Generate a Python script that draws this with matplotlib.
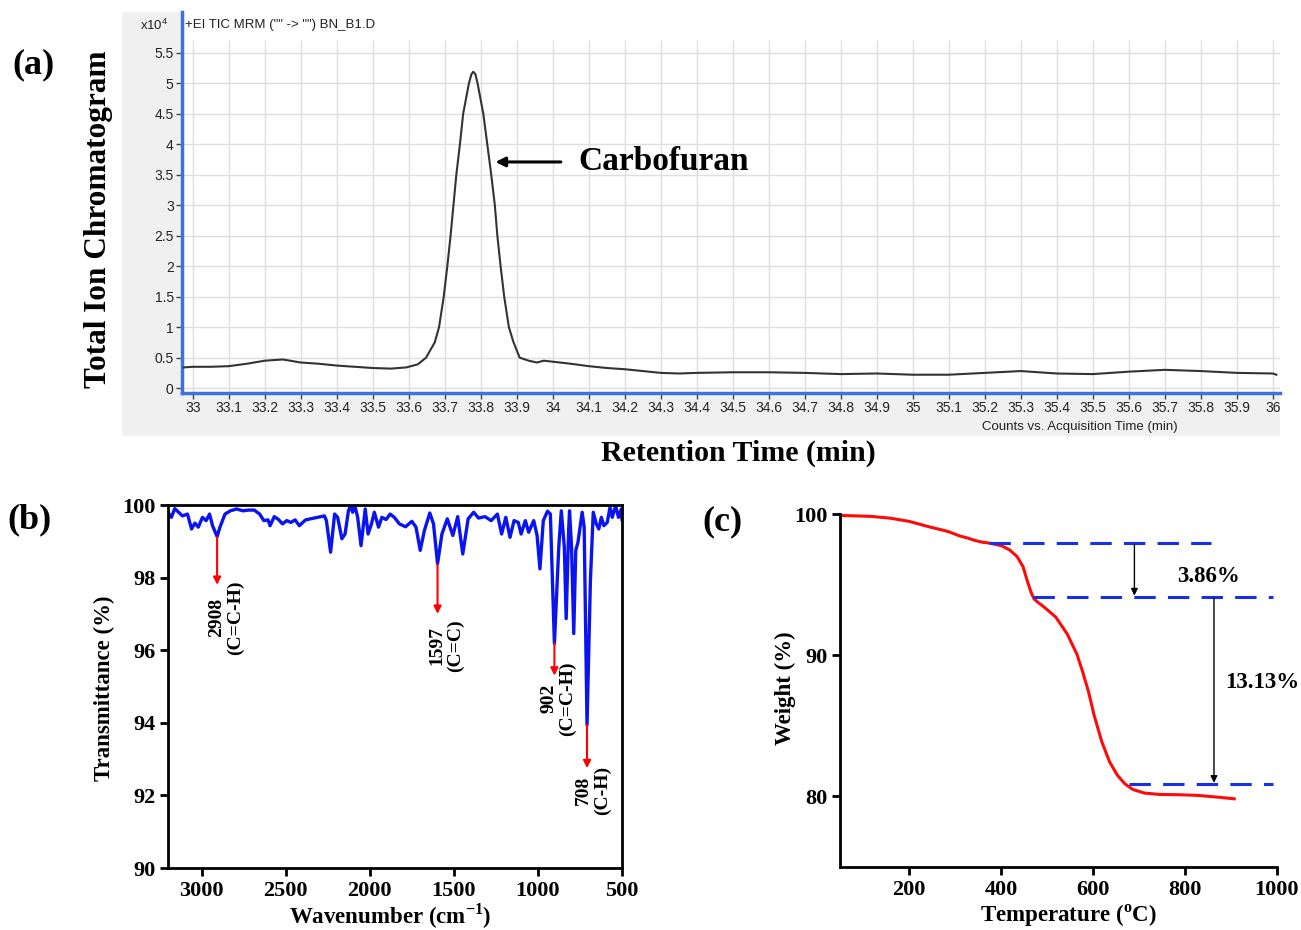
import numpy as np
import matplotlib
matplotlib.use("Agg")
import matplotlib.pyplot as plt
from matplotlib.patches import Rectangle

W, H = 1301, 930

# (a) chromatogram, counts in x10^4
rt = [32.975, 33.0, 33.05, 33.1, 33.15, 33.2, 33.25, 33.3, 33.35, 33.4,
      33.45, 33.5, 33.55, 33.593, 33.625, 33.648, 33.672, 33.684, 33.697, 33.707,
      33.716, 33.724, 33.732, 33.742, 33.751, 33.767, 33.774, 33.779, 33.785, 33.791,
      33.807, 33.818, 33.829, 33.839, 33.846, 33.855, 33.865, 33.878, 33.891, 33.908,
      33.933, 33.956, 33.975, 34.02, 34.05, 34.1, 34.15, 34.2, 34.25, 34.3,
      34.35, 34.4, 34.5, 34.6, 34.7, 34.8, 34.9, 35.0, 35.1, 35.2,
      35.3, 35.4, 35.5, 35.6, 35.7, 35.8, 35.9, 36.0, 36.01]
counts = [0.34, 0.35, 0.35, 0.36, 0.40, 0.45, 0.47, 0.42, 0.40, 0.37,
          0.35, 0.33, 0.32, 0.34, 0.39, 0.50, 0.75, 1.0, 1.5, 2.0,
          2.5, 3.0, 3.5, 4.0, 4.5, 5.0, 5.15, 5.19, 5.15, 5.0,
          4.5, 4.0, 3.5, 3.0, 2.5, 2.0, 1.5, 1.0, 0.75, 0.50,
          0.45, 0.42, 0.45, 0.42, 0.40, 0.36, 0.33, 0.31, 0.28, 0.25,
          0.24, 0.25, 0.26, 0.26, 0.25, 0.23, 0.24, 0.22, 0.22, 0.25,
          0.28, 0.24, 0.23, 0.27, 0.30, 0.28, 0.25, 0.24, 0.22]
rt_ticks = [round(33 + 0.1 * i, 1) for i in range(31)]
count_ticks = [0.5 * i for i in range(12)]

# (b) FTIR
wn = [3200, 3180, 3160, 3114, 3084, 3060, 3040, 3020, 2995, 2973,
      2953, 2935, 2908, 2891, 2861, 2829, 2792, 2754, 2722, 2687,
      2655, 2630, 2605, 2593, 2568, 2543, 2519, 2494, 2469, 2444,
      2419, 2382, 2270, 2258, 2233, 2209, 2191, 2166, 2147, 2127,
      2114, 2102, 2089, 2072, 2052, 2027, 2010, 1990, 1973, 1948,
      1928, 1903, 1879, 1854, 1824, 1787, 1750, 1725, 1700, 1675,
      1643, 1621, 1597, 1571, 1539, 1506, 1477, 1447, 1415, 1382,
      1353, 1315, 1278, 1241, 1216, 1191, 1166, 1142, 1117, 1100,
      1075, 1055, 1025, 1005, 988, 968, 943, 926, 902, 876,
      861, 843, 832, 817, 812, 800, 787, 775, 762, 737,
      725, 708, 688, 671, 653, 638, 623, 608, 588, 571,
      558, 538, 521, 504, 500]
trans = [99.8, 99.66, 99.9, 99.7, 99.75, 99.34, 99.5, 99.39, 99.66, 99.57,
         99.75, 99.43, 99.13, 99.39, 99.75, 99.84, 99.89, 99.84, 99.86, 99.86,
         99.75, 99.57, 99.59, 99.43, 99.68, 99.6, 99.48, 99.57, 99.52, 99.59,
         99.43, 99.59, 99.7, 99.57, 98.7, 99.75, 99.66, 99.07, 99.2, 99.84,
         99.98, 99.8, 99.98, 99.66, 98.88, 99.89, 99.2, 99.48, 99.8, 99.39,
         99.66, 99.6, 99.75, 99.66, 99.48, 99.4, 99.55, 99.39, 98.75, 99.3,
         99.78, 99.48, 98.38, 99.2, 99.62, 99.16, 99.68, 98.65, 99.62, 99.8,
         99.64, 99.68, 99.57, 99.75, 99.2, 99.66, 99.11, 99.57, 99.52, 99.2,
         99.57, 99.25, 99.57, 99.16, 98.24, 99.57, 99.83, 99.75, 96.18, 98.84,
         99.84, 98.84, 96.87, 99.34, 99.84, 98.84, 96.46, 98.75, 98.97, 99.8,
         99.39, 93.94, 97.9, 99.8, 99.48, 99.34, 99.66, 99.43, 99.52, 99.94,
         99.66, 99.98, 99.66, 99.89, 99.6]
ir_peaks = [2908, 1597, 902, 708]
ir_peak_t = [99.12, 98.38, 96.2, 93.95]
ir_arrow_end = [97.8, 97.0, 95.3, 92.75]
ir_labels = ["2908\n(C=C-H)", "1597\n(C=C)", "902\n(C=C-H)", "708\n(C-H)"]
ir_label_pos = [(2853, 96.9), (1546, 96.13), (876, 94.67), (673, 92.13)]

# (c) TGA
temp = [50, 118, 160, 200, 243, 285, 310, 327, 344, 360,
        377, 402, 419, 435, 448, 459, 466, 472, 480, 494,
        519, 544, 565, 577, 590, 602, 619, 636, 653, 669,
        686, 711, 744, 786, 828, 870, 907]
weight = [99.9, 99.83, 99.7, 99.48, 99.1, 98.76, 98.45, 98.3, 98.12, 98.0,
          97.93, 97.74, 97.45, 96.98, 96.26, 95.07, 94.4, 93.98, 93.75, 93.4,
          92.7, 91.5, 90.07, 88.88, 87.45, 85.8, 83.88, 82.45, 81.5, 80.9,
          80.5, 80.24, 80.14, 80.12, 80.07, 79.95, 79.83]
step_levels = [97.93, 94.12, 80.86]
step_start = [373, 469, 678]
step_end = [857, 991, 991]
loss_x = [690, 863]
loss_text = ["3.86%", "13.13%"]
loss_text_pos = [(851, 95.55), (968, 88.05)]


def box(l, t, r, b):
    return [l / W, 1 - b / H, (r - l) / W, (b - t) / H]


serif = "Liberation Serif"
sans = ["Liberation Sans Narrow", "Liberation Sans", "DejaVu Sans"]

fig = plt.figure(figsize=(W / 100, H / 100), dpi=100)

# ---------- panel (a) ----------
fig.add_artist(Rectangle((122 / W, 1 - 436 / H), (1280 - 122) / W, (436 - 12) / H,
                         transform=fig.transFigure, facecolor="#f0f0f0",
                         edgecolor="none", zorder=0))
ax1 = fig.add_axes(box(182, 12, 1280, 393))
ax1.set_facecolor("white")
ax1.set_xlim(32.97, 36.02)
ax1.set_ylim(-0.08, 6.17)
ax1.vlines(rt_ticks, -0.08, 5.71, color="#dedede", lw=1.0, zorder=1)
ax1.hlines(count_ticks, 32.97, 36.02, color="#dedede", lw=1.0, zorder=1)
ax1.plot(rt, counts, color="#333333", lw=1.5, zorder=3)
for s in ["top", "right"]:
    ax1.spines[s].set_visible(False)
for s in ["left", "bottom"]:
    ax1.spines[s].set_color("#3d72d6")
    ax1.spines[s].set_linewidth(2.5)
ax1.set_xticks(rt_ticks)
ax1.set_xticklabels([f"{v:g}" for v in rt_ticks])
ax1.set_yticks(count_ticks)
ax1.set_yticklabels([f"{v:g}" for v in count_ticks])
ax1.tick_params(direction="out", length=4, width=1, color="#444444",
                labelsize=10, labelcolor="#222222", pad=2)
for lab in ax1.get_xticklabels() + ax1.get_yticklabels():
    lab.set_family(sans)
ax1.annotate("", xy=(33.833, 3.71), xytext=(34.03, 3.71),
             arrowprops=dict(arrowstyle="-|>", color="black", lw=2.2,
                             mutation_scale=14))
ax1.text(34.07, 3.71, "Carbofuran", family=serif, weight="bold", fontsize=24,
         va="center", ha="left")

fig.text(185 / W, 1 - 25 / H, '+EI TIC MRM ("" -> "") BN_B1.D', family=sans,
         fontsize=9.5, va="center", ha="left", color="#222222")
fig.text(140 / W, 1 - 25 / H, r"x10$^{\mathregular{4}}$", family=sans,
         fontsize=9.5, va="center", ha="left", color="#222222")
fig.text(1080 / W, 1 - 427 / H, "Counts vs. Acquisition Time (min)", family=sans,
         fontsize=9.5, va="center", ha="center", color="#222222")
fig.text(738 / W, 1 - 453 / H, "Retention Time (min)", family=serif,
         weight="bold", fontsize=21.5, va="center", ha="center")
fig.text(99 / W, 1 - 219 / H, "Total Ion Chromatogram", family=serif,
         weight="bold", fontsize=22.5, va="center", ha="center", rotation=90)
fig.text(34 / W, 1 - 65 / H, "(a)", family=serif, weight="bold", fontsize=26,
         va="center", ha="center")

# ---------- panel (b) ----------
ax2 = fig.add_axes(box(168, 505, 622, 868))
ax2.plot(wn, trans, color="#0a14f0", lw=2.4)
ax2.set_xlim(3200, 500)
ax2.set_ylim(90, 100)
ax2.set_xticks([3000, 2500, 2000, 1500, 1000, 500])
ax2.set_yticks([90, 92, 94, 96, 98, 100])
for s in ax2.spines.values():
    s.set_linewidth(2)
ax2.tick_params(direction="out", length=6, width=2, labelsize=16, pad=3)
for lab in ax2.get_xticklabels() + ax2.get_yticklabels():
    lab.set_family(serif)
    lab.set_weight("bold")
for p, t0, t1, lab, pos in zip(ir_peaks, ir_peak_t, ir_arrow_end, ir_labels, ir_label_pos):
    ax2.annotate("", xy=(p, t1), xytext=(p, t0),
                 arrowprops=dict(arrowstyle="-|>", color="red", lw=1.5,
                                 mutation_scale=11, shrinkA=0, shrinkB=0))
    ax2.text(pos[0], pos[1], lab, rotation=90, ha="center", va="center",
             multialignment="center", family=serif, weight="bold", fontsize=14,
             linespacing=1.1)
fig.text(104 / W, 1 - 688 / H, "Transmittance (%)", family=serif, weight="bold",
         fontsize=16.5, rotation=90, va="center", ha="center")
fig.text(390 / W, 1 - 916 / H, r"Wavenumber (cm$^{\mathregular{-1}}$)", family=serif,
         weight="bold", fontsize=16.5, va="center", ha="center")
fig.text(29 / W, 1 - 520 / H, "(b)", family=serif, weight="bold", fontsize=26,
         va="center", ha="center")

# ---------- panel (c) ----------
ax3 = fig.add_axes(box(840, 514, 1277, 867))
ax3.plot(temp, weight, color="#ff0a0a", lw=2.2)
ax3.set_xlim(50, 1000)
ax3.set_ylim(75, 100)
ax3.set_xticks([200, 400, 600, 800, 1000])
ax3.set_yticks([80, 90, 100])
for s in ["top", "right"]:
    ax3.spines[s].set_visible(False)
for s in ["left", "bottom"]:
    ax3.spines[s].set_linewidth(2)
ax3.tick_params(direction="out", length=6, width=2, labelsize=16, pad=3)
for lab in ax3.get_xticklabels() + ax3.get_yticklabels():
    lab.set_family(serif)
    lab.set_weight("bold")
for lev, x0, x1 in zip(step_levels, step_start, step_end):
    ax3.plot([x0, x1], [lev, lev], color="#1530e8", lw=2.2, ls=(0, (7, 4)),
             clip_on=False)
for i, x in enumerate(loss_x):
    ax3.annotate("", xy=(x, step_levels[i + 1] + 0.1), xytext=(x, step_levels[i] - 0.1),
                 arrowprops=dict(arrowstyle="-|>", color="black", lw=1.0,
                                 mutation_scale=10, shrinkA=0, shrinkB=0))
for txt, pos in zip(loss_text, loss_text_pos):
    ax3.text(pos[0], pos[1], txt, family=serif, weight="bold", fontsize=16.5,
             ha="center", va="center", clip_on=False)
fig.text(785 / W, 1 - 688 / H, "Weight (%)", family=serif, weight="bold",
         fontsize=16.5, rotation=90, va="center", ha="center")
fig.text(1068 / W, 1 - 916 / H, r"Temperature ($^{\mathregular{o}}$C)", family=serif,
         weight="bold", fontsize=16.5, va="center", ha="center")
fig.text(722 / W, 1 - 522 / H, "(c)", family=serif, weight="bold", fontsize=26,
         va="center", ha="center")

fig.savefig("out.png", dpi=100)
